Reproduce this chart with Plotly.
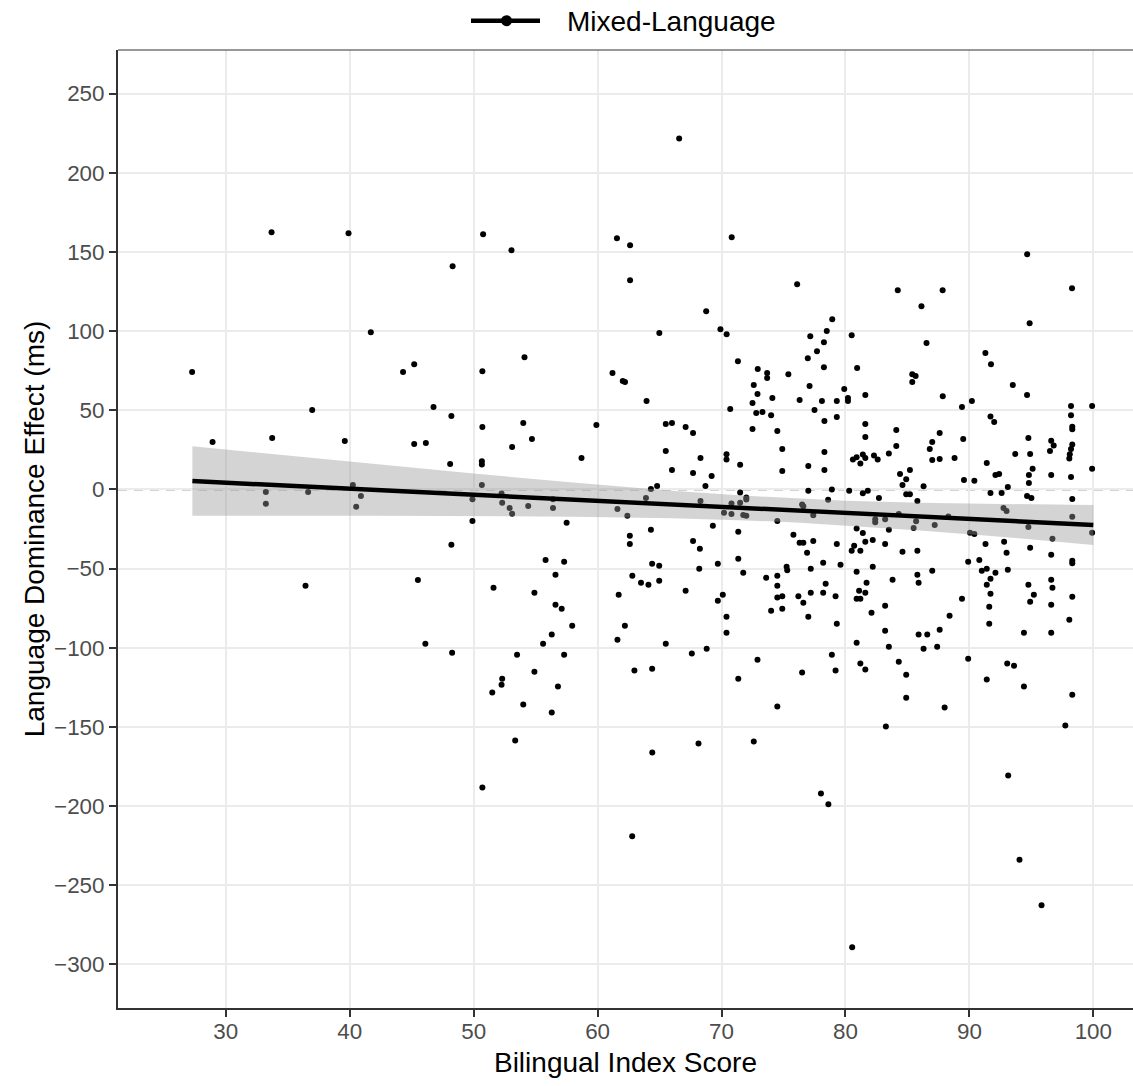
import plotly.graph_objects as go

# ---- scatter data: Bilingual Index Score vs Language Dominance Effect (ms) ----
bis_score = [
    33.69, 39.9, 50.76, 53.05, 48.3, 41.7, 27.28, 44.3, 45.2, 50.7, 54.1,
    66.58, 61.56, 62.62, 62.62, 70.82, 94.66, 76.1, 84.22, 87.84, 98.28, 86.13, 68.76, 94.86,
    64.98, 69.91, 70.41, 78.93, 78.49, 80.5, 77.16, 78.26, 77.7, 76.96, 78.26, 80.94, 86.54,
    91.29, 91.74, 71.32, 61.2, 62.03, 62.21, 72.92, 73.68, 73.68, 75.39, 85.39, 85.66, 85.39,
    28.93, 36.97, 33.74, 39.6, 45.2, 33.23, 33.23, 36.64, 40.25, 40.9, 40.52, 36.43, 45.5,
    63.95, 46.76, 48.2, 46.14, 50.7, 54.0, 54.7, 53.1, 59.9, 58.7, 48.1, 50.66, 50.66, 50.66,
    49.9, 49.9, 52.25, 52.3, 52.9, 53.1, 54.4, 56.4, 56.4, 57.5, 61.6, 62.4, 63.9, 64.3, 64.8,
    65.5, 66.0, 65.5, 66.0, 67.1, 67.7, 68.3, 67.7, 69.2, 68.7, 68.3, 69.3, 48.2, 64.3, 62.6,
    62.6, 67.7, 68.25, 55.8, 57.3, 56.6, 64.4, 64.97, 69.7, 68.2, 62.8, 63.5, 64.1, 64.97,
    51.6, 54.9, 61.7, 67.1, 69.7, 56.6, 57.1, 57.95, 62.2, 56.3, 55.6, 61.6, 65.5, 46.1, 48.26,
    53.5, 57.3, 67.6, 68.8, 54.9, 62.97, 64.4, 52.3, 52.25, 51.5, 56.8, 54.0, 56.3,
    72.6, 77.1, 72.9, 72.5, 74.1, 76.3, 78.1, 79.3, 79.9, 80.2, 80.2, 81.6, 70.7, 72.8, 73.3,
    74.0, 77.5, 78.3, 79.3, 72.5, 74.5, 81.6, 81.6, 84.1, 70.4, 70.4, 71.5, 74.9, 74.9, 77.0,
    78.3, 78.3, 80.6, 80.9, 81.2, 81.4, 81.6, 82.3, 82.6, 83.5, 84.1, 84.4, 85.2, 84.9, 84.6,
    84.9, 85.2, 77.0, 78.9, 80.3, 81.4, 81.8, 82.7, 71.5, 72.0, 72.0, 71.5, 70.8, 70.2, 70.8,
    71.75, 72.0, 78.6, 76.5, 76.6, 77.4, 74.5, 80.9, 81.4, 82.4, 82.4, 83.2, 83.5, 84.3, 85.5,
    85.7, 71.35, 75.8, 76.3, 76.6, 77.4, 76.9, 79.3, 79.6, 78.2, 80.7, 80.5, 81.2, 81.6, 82.2,
    83.2, 84.6, 85.8, 71.35, 71.75, 75.25, 75.3, 77.2, 73.6, 74.5, 74.5, 78.4, 80.9, 81.7,
    82.2, 83.8, 85.8, 85.9, 70.1, 74.5, 74.9, 76.2, 76.6, 77.2, 78.2, 79.2, 81.1, 80.9, 81.2,
    81.6, 74.9, 74.0, 77.0, 82.1, 83.2, 70.4, 70.4, 79.3, 83.2, 83.5, 80.9, 85.9, 72.9, 71.35,
    76.5, 78.9, 79.2, 81.2, 81.6, 84.3, 84.9, 84.9, 74.5,
    93.5, 94.65, 87.85, 89.4, 90.2, 98.2, 99.9, 98.2, 98.3, 98.3, 91.7, 92.0, 87.6, 87.0, 86.8,
    87.0, 87.6, 89.5, 88.8, 91.4, 93.7, 94.76, 94.9, 96.5, 96.6, 96.8, 98.06, 98.1, 98.2, 98.3,
    99.9, 98.2, 96.6, 95.1, 94.8, 94.8, 92.1, 92.4, 89.56, 90.4, 86.3, 93.1, 91.7, 92.6, 85.8,
    94.65, 95.0, 98.3, 92.75, 93.0, 98.3, 88.3, 87.2, 94.76, 90.05, 90.4, 99.9, 96.7, 91.3,
    92.8, 93.0, 94.9, 96.6, 98.3, 98.3, 89.9, 90.8, 91.0, 91.4, 91.7, 92.1, 93.1, 87.0, 91.4,
    91.7, 91.6, 91.6, 94.76, 95.2, 94.9, 96.6, 96.7, 96.6, 98.3, 89.4, 88.4, 87.6, 86.6, 86.3,
    87.4, 98.06, 94.4, 96.6, 89.9, 93.05, 93.6, 91.4, 94.4, 98.3, 88.0,
    53.35, 50.7,
    64.41, 68.14, 72.6, 83.26, 97.74, 93.13, 78.02, 78.62, 62.79, 94.04, 95.82, 80.54,
]
dominance_ms = [
    162.4, 161.7, 161.1, 151.0, 140.9, 99.3, 74.1, 74.1, 79.1, 74.7, 83.5,
    221.6, 158.6, 154.2, 132.1, 159.2, 148.5, 129.6, 125.8, 125.8, 127.0, 115.7, 112.5, 105.0,
    98.7, 101.2, 98.0, 107.5, 100.0, 97.4, 96.8, 93.0, 87.3, 82.9, 77.2, 76.6, 92.4,
    86.1, 79.1, 81.0, 73.5, 68.4, 67.8, 76.0, 73.5, 70.3, 72.8, 72.8, 71.6, 67.8,
    29.9, 50.1, 32.5, 30.6, 28.7, -1.6, -9.1, -1.6, 2.8, -4.1, -11.0, -60.8, -57.2,
    55.8, 52.0, 46.3, 29.3, 39.4, 41.9, 31.8, 26.8, 40.7, 19.9, 16.1, 17.8, 15.7, 2.8,
    -6.2, -19.9, -2.6, -8.5, -11.7, -15.4, -10.4, -11.7, -6.2, -21.1, -12.3, -16.7, -5.4, 0.3, 2.2,
    24.3, 12.3, 41.3, 41.9, 39.4, 35.6, 19.9, 10.4, 8.5, 2.2, -7.3, -23.0, -35.0, -25.5, -29.3,
    -34.4, -32.5, -37.5, -44.5, -45.7, -53.9, -47.0, -48.2, -47.0, -50.1, -54.5, -59.0, -60.2, -57.7,
    -62.1, -65.3, -66.5, -64.0, -70.3, -72.8, -75.3, -86.1, -86.1, -91.7, -97.4, -94.9, -97.4, -97.4, -103.1,
    -104.4, -104.4, -103.7, -100.6, -115.1, -114.4, -113.2, -119.5, -123.3, -128.3, -124.5, -135.9, -140.9,
    65.9, 65.3, 60.2, 54.5, 57.7, 56.4, 55.8, 55.8, 63.4, 57.7, 55.8, 59.6, 50.8, 48.2, 48.9,
    46.9, 50.1, 43.2, 45.7, 38.1, 36.9, 41.3, 33.1, 37.5, 22.2, 18.9, 15.5, 25.5, 11.7, 14.8,
    23.6, 12.3, 18.9, 20.3, 16.3, 22.0, 19.9, 21.4, 18.9, 22.7, 27.4, 9.8, 12.3, 6.4, 2.8,
    -3.0, -3.0, -0.9, 0.0, -0.9, -2.4, -0.9, -5.4, -2.0, -5.1, -6.4, -8.5, -8.9, -14.8, -15.6,
    -16.1, -16.7, -6.6, -9.5, -10.6, -16.3, -19.9, -24.7, -27.6, -18.8, -20.7, -18.8, -25.5, -15.6, -24.3,
    -20.1, -26.8, -28.7, -33.7, -33.7, -32.5, -40.0, -34.4, -47.6, -46.3, -35.6, -38.8, -38.8, -33.1, -31.9,
    -34.4, -39.4, -38.8, -43.8, -52.6, -48.9, -51.0, -50.1, -55.8, -54.5, -60.8, -59.6, -52.0, -59.0,
    -48.9, -57.1, -53.9, -59.0, -66.5, -68.2, -67.4, -67.4, -71.6, -65.3, -65.3, -67.4, -64.0, -69.0, -69.0,
    -65.3, -75.3, -76.6, -80.4, -77.9, -73.5, -80.4, -90.5, -84.8, -89.2, -99.3, -96.8, -91.7, -107.5, -119.5,
    -115.7, -104.4, -114.4, -110.0, -113.8, -108.8, -117.0, -131.5, -137.1,
    65.9, 59.6, 58.9, 52.0, 55.8, 52.6, 52.6, 46.9, 39.5, 38.0, 46.0, 42.6, 35.6, 30.0, 25.5,
    18.6, 19.2, 31.8, 19.9, 16.7, 22.4, 32.5, 22.4, 24.3, 30.8, 27.7, 19.5, 22.2, 25.5, 28.3,
    13.0, 7.9, 9.1, 13.0, 9.1, 4.1, 9.1, 9.8, 6.0, 5.4, 2.0, 1.6, -2.2, -2.2, -7.3,
    -4.1, -5.4, -6.0, -11.7, -13.6, -17.3, -17.1, -22.4, -23.8, -27.4, -28.1, -27.4, -31.2, -34.4,
    -33.1, -40.0, -36.9, -41.3, -45.1, -46.7, -45.7, -44.5, -51.4, -50.1, -56.4, -52.6, -50.8, -51.4, -60.2,
    -65.9, -74.1, -84.8, -60.2, -66.5, -70.9, -57.1, -62.1, -72.8, -67.8, -69.0, -79.8, -88.6, -91.7, -100.6,
    -99.3, -82.3, -90.5, -90.5, -106.9, -110.0, -111.3, -120.1, -124.5, -129.6, -137.8,
    -158.6, -188.2,
    -166.1, -160.5, -159.2, -149.7, -149.1, -180.6, -192.0, -198.9, -219.1, -233.8, -262.6, -289.1,
]

# ---- linear smooth (geom_smooth, method = "lm") ----
smooth_x = [27.3, 35, 42, 50, 58, 66, 72, 76, 80, 86, 92, 100]
smooth_fit = [5.3, 2.4, -0.3, -3.4, -6.4, -9.5, -11.8, -13.3, -14.9, -17.2, -19.4, -22.5]
smooth_hi = [27.3, 21.4, 16.0, 10.0, 4.4, -0.8, -4.0, -5.7, -7.1, -8.5, -9.3, -9.9]
smooth_lo = [-16.7, -16.6, -16.6, -16.8, -17.2, -18.2, -19.6, -20.9, -22.7, -25.9, -29.5, -35.1]

x_ticks = [30, 40, 50, 60, 70, 80, 90, 100]
y_ticks = [-300, -250, -200, -150, -100, -50, 0, 50, 100, 150, 200, 250]
legend_label = "Mixed-Language"

FONT = "Liberation Sans, Arial, Helvetica, sans-serif"

fig = go.Figure()

fig.add_trace(go.Scatter(
    x=bis_score, y=dominance_ms, mode="markers",
    marker=dict(color="black", size=6, line=dict(width=0)),
    showlegend=False, hoverinfo="x+y",
))

fig.add_trace(go.Scatter(
    x=smooth_x + smooth_x[::-1], y=smooth_hi + smooth_lo[::-1],
    fill="toself", fillcolor="rgba(153,153,153,0.42)",
    line=dict(width=0), mode="lines", showlegend=False, hoverinfo="skip",
))

fig.add_trace(go.Scatter(
    x=smooth_x, y=smooth_fit, mode="lines",
    line=dict(color="black", width=4.5), showlegend=False,
))

# dashed reference line at zero
fig.add_shape(type="line", xref="paper", x0=0, x1=1, yref="y", y0=0, y1=0,
              line=dict(color="#A8A8A8", width=2, dash="9px,7px"),
              layer="between")

# top panel border
fig.add_shape(type="line", xref="paper", x0=0, x1=1, yref="paper", y0=1, y1=1,
              line=dict(color="#333333", width=1.2))

# manual legend (line + point key and label) above the panel
W, H = 1133, 1086
L, R, T, B = 118, 0, 50, 78
pw, ph = W - L - R, H - T - B
def px2paper_x(px):
    return (px - L) / pw
def px2paper_y(py):
    return (H - B - py) / ph

ly = px2paper_y(20.7)
fig.add_shape(type="line", xref="paper", yref="paper",
              x0=px2paper_x(471), x1=px2paper_x(540), y0=ly, y1=ly,
              line=dict(color="black", width=4.5))
fig.add_shape(type="circle", xref="paper", yref="paper",
              x0=px2paper_x(501), x1=px2paper_x(512),
              y0=px2paper_y(26.2), y1=px2paper_y(15.2),
              fillcolor="black", line=dict(width=0))
fig.add_annotation(text=legend_label, xref="paper", yref="paper",
                   x=px2paper_x(565), y=px2paper_y(21.5), xanchor="left", yanchor="middle",
                   showarrow=False, font=dict(family=FONT, size=28, color="black"))

axis_common = dict(
    showgrid=True, gridcolor="#EBEBEB", gridwidth=1.8,
    zeroline=False, showline=True, linecolor="#333333", linewidth=2,
    ticks="outside", ticklen=7, tickwidth=2, tickcolor="#333333",
    tickfont=dict(family=FONT, size=22.4, color="#4D4D4D"),
)

fig.update_xaxes(
    range=[21.3, 103.2], tickvals=x_ticks, ticktext=[str(v) for v in x_ticks],
    ticklabelstandoff=-5,
    title=dict(text="Bilingual Index Score", font=dict(family=FONT, size=28, color="black"), standoff=10),
    **axis_common,
)
fig.update_yaxes(
    range=[-327.5, 277.5], tickvals=y_ticks,
    ticktext=[("\u2212" + str(-v)) if v < 0 else str(v) for v in y_ticks],
    title=dict(text="Language Dominance Effect (ms)", font=dict(family=FONT, size=28, color="black"), standoff=1),
    **axis_common,
)

fig.update_layout(
    width=W, height=H,
    margin=dict(l=L, r=R, t=T, b=B, autoexpand=False),
    plot_bgcolor="white", paper_bgcolor="white",
    showlegend=False,
    font=dict(family=FONT),
)

fig.write_html("out.html", config={"displayModeBar": False},
               post_script="document.body.style.margin='0';document.body.style.overflow='hidden';")
